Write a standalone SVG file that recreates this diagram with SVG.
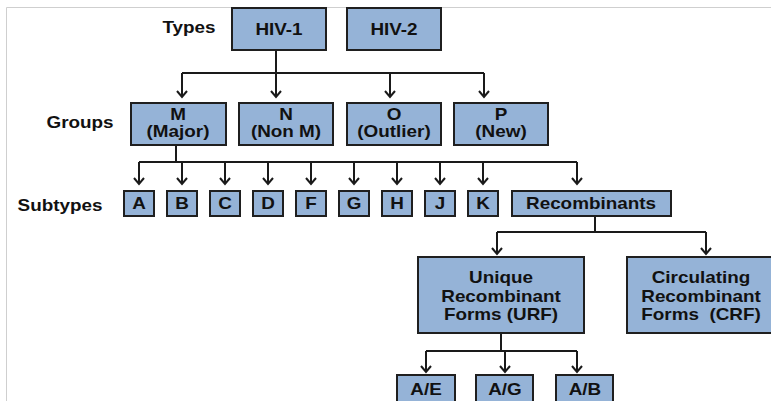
<svg xmlns="http://www.w3.org/2000/svg" width="771" height="401" viewBox="0 0 771 401">
<defs>
<marker id="ah" viewBox="0 0 12 12" refX="10" refY="6" markerWidth="12" markerHeight="12" markerUnits="userSpaceOnUse" orient="auto">
<path d="M4,1 L10,6 L4,11" fill="none" stroke="#1a1a1a" stroke-width="2"/>
</marker>
<style>
.box{fill:#95b3d7;stroke:#1f1f1f;stroke-width:2}
.t{font-family:"Liberation Sans",Arial,sans-serif;font-weight:bold;font-size:16px;fill:#111;text-anchor:middle}
.c{fill:none;stroke:#1a1a1a;stroke-width:2}
.a{marker-end:url(#ah)}
</style>
</defs>
<rect width="771" height="401" fill="#fff"/>
<path d="M6.5,401 V7.5 H771" fill="none" stroke="#cfcfcf" stroke-width="1"/>

<g id="labels">
<text class="t" transform="translate(189,33) scale(1.18,1)">Types</text>
<text class="t" transform="translate(80,128) scale(1.18,1)">Groups</text>
<text class="t" transform="translate(60,211) scale(1.18,1)">Subtypes</text>
</g>

<g id="connectors">
<path class="c" d="M276,50 V73 M182,73 H484"/>
<path class="c a" d="M182,73 V97"/>
<path class="c a" d="M276,73 V97"/>
<path class="c a" d="M390,73 V97"/>
<path class="c a" d="M484,73 V97"/>
<path class="c" d="M176,145 V162 M139,162 H577"/>
<path class="c a" d="M139,162 V184"/>
<path class="c a" d="M182,162 V184"/>
<path class="c a" d="M225,162 V184"/>
<path class="c a" d="M268,162 V184"/>
<path class="c a" d="M311,162 V184"/>
<path class="c a" d="M354,162 V184"/>
<path class="c a" d="M397,162 V184"/>
<path class="c a" d="M440,162 V184"/>
<path class="c a" d="M483,162 V184"/>
<path class="c a" d="M577,162 V184"/>
<path class="c" d="M595,216 V232 M497,232 H706"/>
<path class="c a" d="M497,232 V254"/>
<path class="c a" d="M706,232 V254"/>
<path class="c" d="M501,333 V351 M426,351 H577"/>
<path class="c a" d="M426,351 V372"/>
<path class="c a" d="M505,351 V372"/>
<path class="c a" d="M577,351 V372"/>
</g>

<g id="hiv1"><rect class="box" x="232" y="8" width="94" height="42"/><text class="t" transform="translate(279,35) scale(1.18,1)">HIV-1</text></g>
<g id="hiv2"><rect class="box" x="347" y="8" width="94" height="42"/><text class="t" transform="translate(394,35) scale(1.18,1)">HIV-2</text></g>

<g id="groupM"><rect class="box" x="131" y="103" width="95" height="42"/><text class="t" transform="translate(178,120) scale(1.18,1)">M</text><text class="t" transform="translate(178,137) scale(1.18,1)">(Major)</text></g>
<g id="groupN"><rect class="box" x="239" y="103" width="94" height="42"/><text class="t" transform="translate(286,120) scale(1.18,1)">N</text><text class="t" transform="translate(286,137) scale(1.18,1)">(Non M)</text></g>
<g id="groupO"><rect class="box" x="347" y="103" width="94" height="42"/><text class="t" transform="translate(394,120) scale(1.18,1)">O</text><text class="t" transform="translate(394,137) scale(1.18,1)">(Outlier)</text></g>
<g id="groupP"><rect class="box" x="454" y="103" width="94" height="42"/><text class="t" transform="translate(501,120) scale(1.18,1)">P</text><text class="t" transform="translate(501,137) scale(1.18,1)">(New)</text></g>

<g id="subA"><rect class="box" x="124" y="191" width="30" height="25"/><text class="t" transform="translate(139,209) scale(1.18,1)">A</text></g>
<g id="subB"><rect class="box" x="167" y="191" width="30" height="25"/><text class="t" transform="translate(182,209) scale(1.18,1)">B</text></g>
<g id="subC"><rect class="box" x="210" y="191" width="30" height="25"/><text class="t" transform="translate(225,209) scale(1.18,1)">C</text></g>
<g id="subD"><rect class="box" x="253" y="191" width="30" height="25"/><text class="t" transform="translate(268,209) scale(1.18,1)">D</text></g>
<g id="subF"><rect class="box" x="296" y="191" width="30" height="25"/><text class="t" transform="translate(311,209) scale(1.18,1)">F</text></g>
<g id="subG"><rect class="box" x="339" y="191" width="30" height="25"/><text class="t" transform="translate(354,209) scale(1.18,1)">G</text></g>
<g id="subH"><rect class="box" x="382" y="191" width="30" height="25"/><text class="t" transform="translate(397,209) scale(1.18,1)">H</text></g>
<g id="subJ"><rect class="box" x="425" y="191" width="30" height="25"/><text class="t" transform="translate(440,209) scale(1.18,1)">J</text></g>
<g id="subK"><rect class="box" x="468" y="191" width="30" height="25"/><text class="t" transform="translate(483,209) scale(1.18,1)">K</text></g>
<g id="recomb"><rect class="box" x="512" y="191" width="159" height="25"/><text class="t" transform="translate(591,209) scale(1.18,1)">Recombinants</text></g>

<g id="urf"><rect class="box" x="418" y="257" width="166" height="76"/><text class="t" transform="translate(501,283) scale(1.18,1)">Unique</text><text class="t" transform="translate(501,302) scale(1.18,1)">Recombinant</text><text class="t" transform="translate(501,320) scale(1.18,1)">Forms (URF)</text></g>
<g id="crf"><rect class="box" x="627" y="257" width="150" height="76"/><text class="t" transform="translate(701,283) scale(1.18,1)">Circulating</text><text class="t" transform="translate(701,302) scale(1.18,1)">Recombinant</text><text class="t" xml:space="preserve" transform="translate(701,320) scale(1.18,1)">Forms  (CRF)</text></g>

<g id="ae"><rect class="box" x="397" y="375" width="58" height="34"/><text class="t" transform="translate(426,395) scale(1.18,1)">A/E</text></g>
<g id="ag"><rect class="box" x="476" y="375" width="57" height="34"/><text class="t" transform="translate(505,395) scale(1.18,1)">A/G</text></g>
<g id="ab"><rect class="box" x="556" y="375" width="57" height="34"/><text class="t" transform="translate(585,395) scale(1.18,1)">A/B</text></g>
</svg>
